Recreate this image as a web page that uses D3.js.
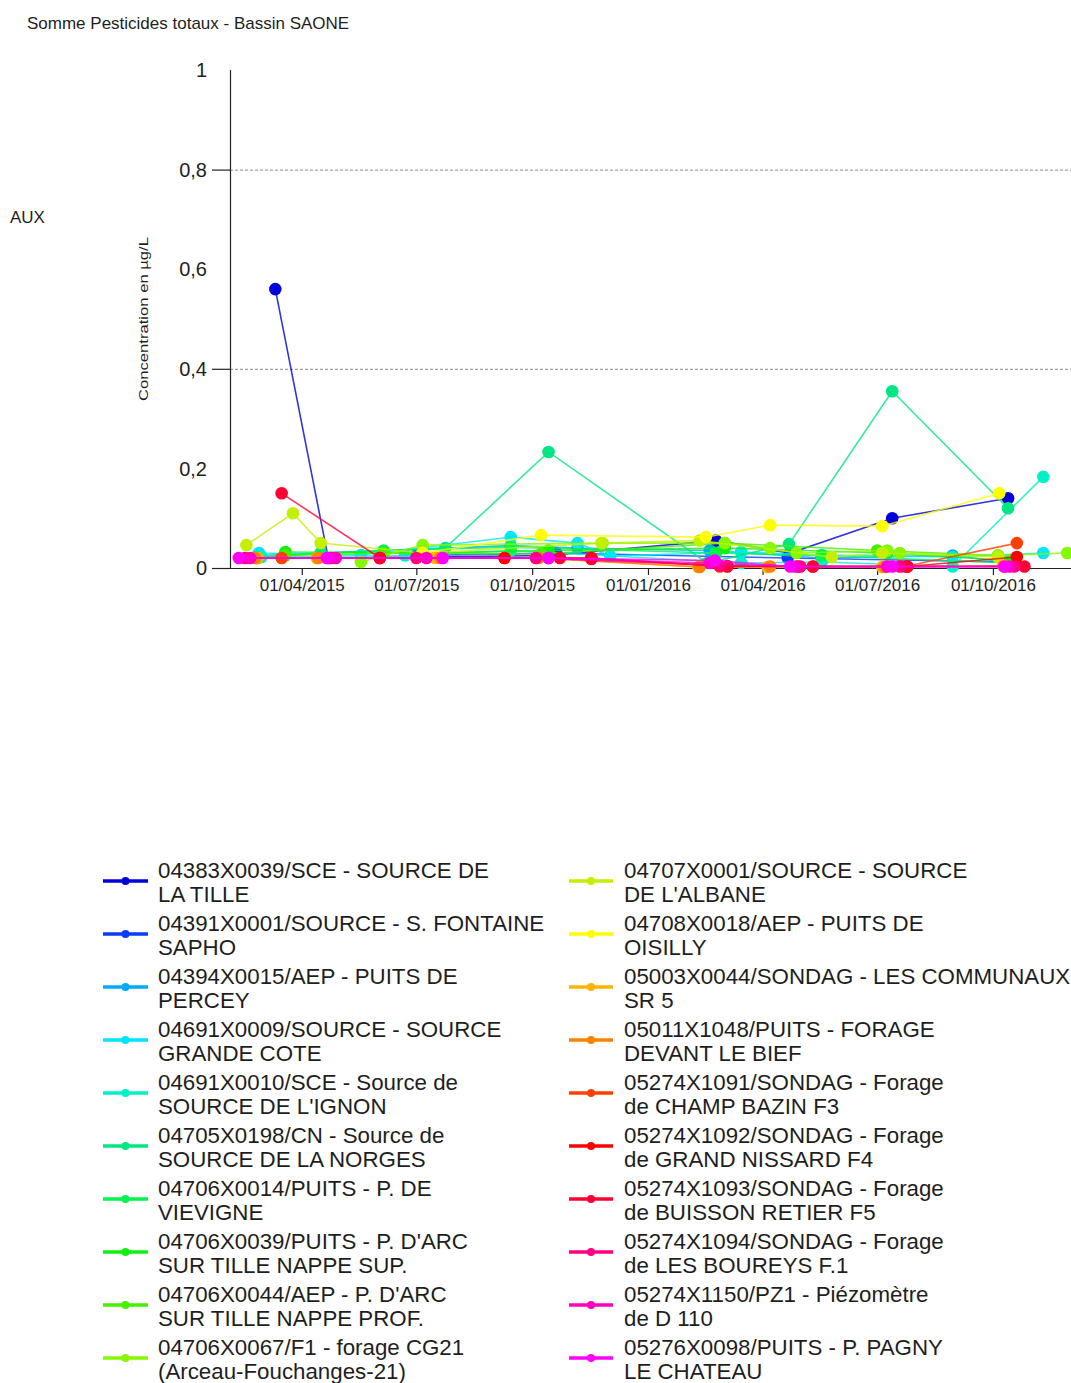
<!DOCTYPE html>
<html>
<head>
<meta charset="utf-8">
<script src="https://cdn.jsdelivr.net/npm/d3@7"></script>
<style>
  body { margin: 0; background: #fff; }
  svg { display: block; }
  text { font-family: "Liberation Sans", Arial, sans-serif; fill: #1e1e1e; }
</style>
</head>
<body>
<svg id="chart" width="1071" height="1383"></svg>
<script>
// ---- Data -------------------------------------------------------------
const chartTitle = "Somme Pesticides totaux - Bassin SAONE";
const sideLabel = "AUX";
const yTitle = "Concentration en µg/L";

const xDomain = ["2015-02-03", "2016-12-02"];
const xTickDates = ["2015-04-01", "2015-07-01", "2015-10-01", "2016-01-01", "2016-04-01", "2016-07-01", "2016-10-01"];
const yLabelValues = [0, 0.2, 0.4, 0.6, 0.8, 1];
const yMajorValues = [0, 0.4, 0.8];
const yGridValues = [0.4, 0.8];

const stationNames = [
  ["04383X0039/SCE - SOURCE DE", "LA TILLE"],
  ["04391X0001/SOURCE - S. FONTAINE", "SAPHO"],
  ["04394X0015/AEP - PUITS DE", "PERCEY"],
  ["04691X0009/SOURCE - SOURCE", "GRANDE COTE"],
  ["04691X0010/SCE - Source de", "SOURCE DE L'IGNON"],
  ["04705X0198/CN - Source de", "SOURCE DE LA NORGES"],
  ["04706X0014/PUITS - P. DE", "VIEVIGNE"],
  ["04706X0039/PUITS - P. D'ARC", "SUR TILLE NAPPE SUP."],
  ["04706X0044/AEP - P. D'ARC", "SUR TILLE NAPPE PROF."],
  ["04706X0067/F1 - forage CG21", "(Arceau-Fouchanges-21)"],
  ["04707X0001/SOURCE - SOURCE", "DE L'ALBANE"],
  ["04708X0018/AEP - PUITS DE", "OISILLY"],
  ["05003X0044/SONDAG - LES COMMUNAUX", "SR 5"],
  ["05011X1048/PUITS - FORAGE", "DEVANT LE BIEF"],
  ["05274X1091/SONDAG - Forage", "de CHAMP BAZIN F3"],
  ["05274X1092/SONDAG - Forage", "de GRAND NISSARD F4"],
  ["05274X1093/SONDAG - Forage", "de BUISSON RETIER F5"],
  ["05274X1094/SONDAG - Forage", "de LES BOUREYS F.1"],
  ["05274X1150/PZ1 - Piézomètre", "de D 110"],
  ["05276X0098/PUITS - P. PAGNY", "LE CHATEAU"]
];

const stationColors = [
  "#0000d8", "#0a3cff", "#00aaff", "#00e6ff", "#00f0c8",
  "#00e682", "#00f550", "#12f012", "#46f000", "#86f800",
  "#c2f000", "#ffff00", "#ffb400", "#ff8000", "#ff4000",
  "#ff0000", "#ff0034", "#ff0080", "#ff00c0", "#ff00ff"
];

// measurements: [date, µg/L]
const s01 = [["2015-03-11",0.56],["2015-04-22",0.02],["2015-10-14",0.025],["2016-02-24",0.055],["2016-04-23",0.03],["2016-07-13",0.10],["2016-10-13",0.14]];
const s02 = [["2015-07-01",0.025],["2015-10-20",0.03],["2016-04-21",0.02],["2016-10-14",0.012]];
const s03 = [["2015-02-26",0.025],["2015-09-14",0.045],["2015-11-06",0.04],["2016-02-19",0.035],["2016-05-18",0.02],["2016-08-30",0.025],["2016-10-18",0.01]];
const s04 = [["2015-02-26",0.03],["2015-05-18",0.026],["2015-09-14",0.062],["2015-11-06",0.05],["2015-12-02",0.024],["2016-03-15",0.032],["2016-05-18",0.026],["2016-08-30",0.022],["2016-11-10",0.03]];
const s05 = [["2015-02-28",0.022],["2015-06-22",0.025],["2015-09-14",0.035],["2016-03-15",0.01],["2016-05-18",0.012],["2016-08-30",0.003],["2016-11-10",0.183]];
const s06 = [["2015-02-25",0.02],["2015-04-16",0.03],["2015-07-24",0.04],["2015-10-14",0.233],["2016-02-17",0.01],["2016-04-22",0.048],["2016-07-13",0.355],["2016-10-13",0.12]];
const s07 = [["2015-02-23",0.022],["2015-06-05",0.035],["2015-09-14",0.042],["2016-02-24",0.03],["2016-05-18",0.025],["2016-10-14",0.01]];
const s08 = [["2015-03-19",0.032],["2015-07-06",0.03],["2015-10-14",0.035],["2016-03-02",0.04],["2016-07-09",0.03],["2016-10-14",0.015]];
const s09 = [["2015-03-19",0.025],["2015-06-05",0.03],["2015-10-08",0.028],["2016-03-02",0.05],["2016-07-01",0.035],["2016-10-05",0.025]];
const s10 = [["2015-05-18",0.012],["2015-07-06",0.046],["2015-11-26",0.05],["2016-03-02",0.05],["2016-04-07",0.04],["2016-04-28",0.03],["2016-07-09",0.035],["2016-07-19",0.03],["2016-10-05",0.025],["2016-11-29",0.03]];
const s11 = [["2015-02-16",0.046],["2015-03-25",0.11],["2015-04-16",0.05],["2015-07-06",0.03],["2015-11-25",0.05],["2016-02-11",0.055],["2016-05-26",0.022],["2016-07-05",0.03],["2016-10-05",0.022]];
const s12 = [["2015-07-06",0.03],["2015-10-08",0.066],["2016-02-16",0.062],["2016-04-07",0.086],["2016-07-05",0.084],["2016-10-06",0.15]];
const s13 = [["2015-02-25",0.02],["2015-04-13",0.02],["2015-07-16",0.02],["2015-10-04",0.02],["2016-02-10",0.002],["2016-04-05",0.002],["2016-07-05",0.002],["2016-10-09",0.005]];
const s14 = [["2015-02-23",0.02],["2015-04-14",0.02],["2015-07-20",0.02],["2015-10-06",0.02],["2016-02-11",0.002],["2016-04-07",0.003],["2016-07-07",0.002],["2016-10-10",0.003]];
const s15 = [["2015-03-16",0.02],["2015-06-02",0.02],["2015-09-09",0.02],["2015-11-17",0.02],["2016-02-27",0.003],["2016-05-11",0.003],["2016-07-23",0.003],["2016-10-20",0.05]];
const s16 = [["2015-06-02",0.02],["2015-09-09",0.02],["2015-11-17",0.02],["2016-03-04",0.003],["2016-04-29",0.003],["2016-07-25",0.003],["2016-10-20",0.022]];
const s17 = [["2015-03-16",0.15],["2015-06-02",0.02],["2015-10-23",0.02],["2015-11-17",0.018],["2016-03-04",0.004],["2016-05-11",0.003],["2016-07-25",0.003],["2016-10-26",0.003]];
const s18 = [["2015-02-15",0.02],["2015-04-24",0.02],["2015-07-01",0.02],["2015-10-04",0.02],["2016-02-27",0.005],["2016-05-01",0.003],["2016-07-19",0.003],["2016-10-18",0.003]];
const s19 = [["2015-02-19",0.02],["2015-04-28",0.02],["2015-07-09",0.02],["2015-10-14",0.02],["2016-02-19",0.01],["2016-04-27",0.003],["2016-07-09",0.003],["2016-10-14",0.003]];
const s20 = [["2015-02-10",0.02],["2015-04-21",0.02],["2015-07-22",0.02],["2015-10-14",0.02],["2016-02-23",0.015],["2016-04-23",0.003],["2016-07-13",0.003],["2016-10-10",0.003]];

const stationSeries = [s01, s02, s03, s04, s05, s06, s07, s08, s09, s10,
                       s11, s12, s13, s14, s15, s16, s17, s18, s19, s20];

// ---- Layout -----------------------------------------------------------
const plot = { left: 230, right: 1071, top: 70, bottom: 568 };
const parse = d3.utcParse("%Y-%m-%d");
const fmtDate = d3.utcFormat("%d/%m/%Y");
const fmtVal = v => String(v).replace(".", ",");

const svg = d3.select("#chart");

const x = d3.scaleUtc().domain(xDomain.map(parse)).range([plot.left, plot.right]);
const y = d3.scaleLinear().domain([0, 1]).range([plot.bottom, plot.top]);

// titles
svg.append("text").attr("x", 27).attr("y", 29)
  .style("font-size", "17px").text(chartTitle);
svg.append("text").attr("x", 10).attr("y", 223)
  .style("font-size", "17px").text(sideLabel);
svg.append("text")
  .attr("transform", `translate(148,319) rotate(-90)`)
  .attr("text-anchor", "middle")
  .attr("textLength", 164).attr("lengthAdjust", "spacingAndGlyphs")
  .style("font-size", "13.5px").text(yTitle);

// horizontal dashed gridlines
svg.append("g").selectAll("line").data(yGridValues).join("line")
  .attr("x1", plot.left).attr("x2", plot.right)
  .attr("y1", d => y(d) + 0.5).attr("y2", d => y(d) + 0.5)
  .attr("stroke", "#8a8a8a").attr("stroke-width", 1)
  .attr("stroke-dasharray", "3,2");

// y axis
const yAxis = svg.append("g");
yAxis.append("line")
  .attr("x1", plot.left + 0.5).attr("x2", plot.left + 0.5)
  .attr("y1", plot.top).attr("y2", plot.bottom)
  .attr("stroke", "#222").attr("stroke-width", 1.2);
yAxis.selectAll("line.tick").data(yMajorValues).join("line")
  .attr("class", "tick")
  .attr("x1", 212).attr("x2", plot.left)
  .attr("y1", d => y(d) + 0.5).attr("y2", d => y(d) + 0.5)
  .attr("stroke", "#222").attr("stroke-width", 1.2);
yAxis.selectAll("text").data(yLabelValues).join("text")
  .attr("x", 207).attr("y", d => y(d))
  .attr("dy", "0.36em").attr("text-anchor", "end")
  .style("font-size", "20px")
  .text(fmtVal);

// x axis
const xAxis = d3.axisBottom(x)
  .tickValues(xTickDates.map(parse))
  .tickFormat(fmtDate)
  .tickSize(7).tickPadding(4);
const gx = svg.append("g").attr("transform", `translate(0,${plot.bottom})`).call(xAxis);
gx.select(".domain").attr("stroke", "#222").attr("stroke-width", 1.2)
  .attr("d", `M${212},0.5H${plot.right}`);
gx.selectAll(".tick line").attr("stroke", "#222").attr("stroke-width", 1.2);
gx.selectAll(".tick text")
  .style("font-size", "17px").style("font-family", "'Liberation Sans', Arial, sans-serif")
  .attr("fill", "#1e1e1e");

// series
svg.append("clipPath").attr("id", "plotclip").append("rect")
  .attr("x", plot.left + 1).attr("y", 0)
  .attr("width", plot.right - plot.left).attr("height", plot.bottom + 8);

const series = stationSeries.map((pts, i) => ({
  color: stationColors[i],
  points: pts.map(([d, v]) => ({ date: parse(d), value: v }))
}));

const line = d3.line().x(d => x(d.date)).y(d => y(d.value));
const gSeries = svg.append("g").attr("clip-path", "url(#plotclip)");

series.forEach(s => {
  const g = gSeries.append("g");
  g.append("path").datum(s.points)
    .attr("d", line)
    .attr("fill", "none")
    .attr("stroke", s.color)
    .attr("stroke-width", 1.6)
    .attr("stroke-opacity", 0.8);
  g.selectAll("circle").data(s.points).join("circle")
    .attr("cx", d => x(d.date)).attr("cy", d => y(d.value))
    .attr("r", 6.3)
    .attr("fill", s.color);
});

// legend: two columns of ten entries, each label on two lines
const legend = svg.append("g");
const colX = [{ lx1: 103, lx2: 148, tx: 158 }, { lx1: 569, lx2: 613, tx: 624 }];
stationNames.forEach((lines, i) => {
  const col = colX[Math.floor(i / 10)];
  const cy = 881 + (i % 10) * 53;
  const g = legend.append("g");
  g.append("line")
    .attr("x1", col.lx1).attr("x2", col.lx2)
    .attr("y1", cy).attr("y2", cy)
    .attr("stroke", stationColors[i]).attr("stroke-width", 3.5);
  g.append("circle")
    .attr("cx", (col.lx1 + col.lx2) / 2).attr("cy", cy).attr("r", 4)
    .attr("fill", stationColors[i]);
  g.selectAll("text").data(lines).join("text")
    .attr("x", col.tx)
    .attr("y", (d, j) => cy - 3 + j * 24)
    .style("font-size", "22.3px")
    .text(d => d);
});
</script>
</body>
</html>
